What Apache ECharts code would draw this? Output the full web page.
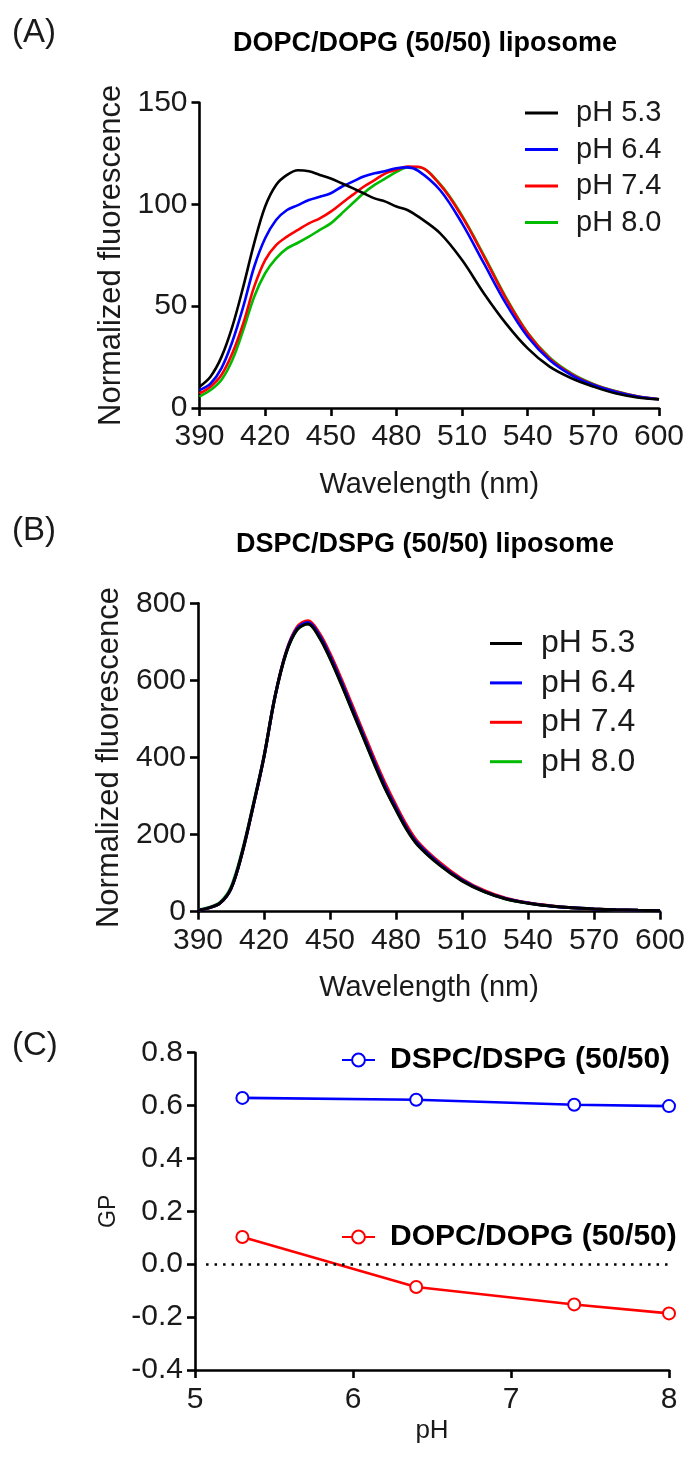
<!DOCTYPE html>
<html>
<head>
<meta charset="utf-8">
<script src="https://cdn.jsdelivr.net/npm/echarts@6/dist/echarts.min.js"></script>
<style>
html,body{margin:0;padding:0;background:#fff;}
#chart{width:689px;height:1458px;}
</style>
</head>
<body>
<div id="chart"></div>
<script>
// ---------- DATA ----------
const wavelengths = [390,395,400,405,410,415,420,425,430,435,440,445,450,455,460,465,470,475,480,485,490,500,510,520,530,540,550,560,570,580,590,600];
const phLabels = ['pH 5.3','pH 6.4','pH 7.4','pH 8.0'];

// Panel A: DOPC/DOPG (50/50)
const dopcPH53 = [10.5,15.4,25,40,59.6,81,99,109.6,114.5,116.8,116.3,114.5,112.8,110.4,108,105.5,103,101.4,99,97.3,94,85.8,72.7,56.3,41.6,29.3,20.3,14.6,10.5,7.2,5.2,4.3];
const dopcPH64 = [8.8,12,19.5,32.6,49.8,69.4,83.4,92.4,97.3,99.7,102.2,103.8,105.5,108.7,111.2,113.7,115.3,116.4,117.8,118.2,116.5,107,90.7,71,51.4,35,23.6,16.2,11.3,8,5.6,4.3];
const dopcPH74 = [7.2,10.5,16.2,26.9,41.6,59.6,72.7,80,84.2,87.5,90.7,93.2,96.5,100.6,104.7,108.7,112,115.3,117,118.6,118.5,109.6,94,74.4,53.9,36.7,24.4,16.7,11.6,8.2,5.7,4.3];
const dopcPH80 = [5.6,8.8,13.8,23.6,38.3,54.7,66.2,73.5,78.4,81.2,84.2,87.5,90.7,95.6,100.6,105.5,109.6,112.8,116,118.2,118.3,110,94.5,75,54.5,37,24.8,17,11.8,8.3,5.8,4.3];

// Panel B: DSPC/DSPG (50/50)
const dspcPH53 = [4,10,22,60,151,272,402,558,670,731,746,713,657,592,523,454,385,320,264,212,172,120,80,52,33,22,15,10,7,5,3.5,2.6];
const dspcPH64 = [4,10,22,60,151,272,402,558,672,734,750,718,663,598,529,460,391,326,269,216,176,123,82,53,34,22.5,15,10,7,5,3.5,2.6];
const dspcPH74 = [4,10,22,60,151,272,402,558,673,738,755,724,670,606,537,468,399,334,276,223,181,127,85,55,35,23,15.5,10.5,7.2,5.1,3.6,2.7];
const dspcPH80 = [4.5,11,24,64,156,276,404,558,670,731,746,714,658,593,524,455,386,321,265,213,173,121,81,52,33,22,15,10,7,5,3.5,2.6];

// Panel C: GP vs pH
const phValues = [5.3, 6.4, 7.4, 8.0];
const gpDSPC = [0.629, 0.622, 0.603, 0.598];
const gpDOPC = [0.103, -0.086, -0.152, -0.186];

// ---------- STYLE ----------
const FONT = "'Liberation Sans', Arial, Helvetica, sans-serif";
const colors = {'pH 5.3':'#000000','pH 6.4':'#0000ff','pH 7.4':'#ff0000','pH 8.0':'#00bb00'};
const pair = (xs, ys) => xs.map((x, i) => [x, ys[i]]);

const axisLine = {show:true, onZero:false, lineStyle:{color:'#000', width:2.6}};
const axisTick = {show:true, inside:false, length:8, lineStyle:{color:'#000', width:2.6}};
const lbl = (size) => ({color:'#1a1a1a', fontSize:size, fontFamily:FONT});

function specX(grid){
  return {type:'value', gridIndex:grid, min:390, max:600, interval:30,
    axisLine, axisTick, splitLine:{show:false},
    axisLabel:{...lbl(30), margin:14},
    name:'Wavelength (nm)', nameLocation:'middle', nameGap:62,
    nameTextStyle:lbl(29)};
}
function specY(grid, max, interval){
  return {type:'value', gridIndex:grid, min:0, max:max, interval:interval,
    axisLine, axisTick, splitLine:{show:false},
    axisLabel:{...lbl(30), margin:12},
    name:'Normalized fluorescence', nameLocation:'middle', nameGap:63,
    nameTextStyle:lbl(31)};
}
function specSeries(name, xs, ys, xi, lw, z){
  return {type:'line', name:name, xAxisIndex:xi, yAxisIndex:xi,
    data:pair(xs, ys), showSymbol:false, symbol:'none', smooth:0.35,
    lineStyle:{color:colors[name], width:lw}, itemStyle:{color:colors[name]},
    z:z, silent:true};
}

const option = {
  animation:false,
  textStyle:{fontFamily:FONT},
  grid:[
    {left:199.5, top:102.7, width:459.5, height:305.3},
    {left:198, top:603.3, width:462, height:308.4},
    {left:195, top:1052.7, width:474, height:317.3}
  ],
  xAxis:[
    specX(0),
    specX(1),
    {type:'value', gridIndex:2, min:5, max:8, interval:1,
      axisLine, axisTick, splitLine:{show:false},
      axisLabel:{...lbl(30), margin:15},
      name:'pH', nameLocation:'middle', nameGap:48, nameTextStyle:lbl(26)}
  ],
  yAxis:[
    specY(0, 150, 50),
    specY(1, 800, 200),
    {type:'value', gridIndex:2, min:-0.4, max:0.8, interval:0.2,
      axisLine, axisTick, splitLine:{show:false},
      axisLabel:{...lbl(30), margin:12, formatter:(v)=>v.toFixed(1)},
      name:'GP', nameLocation:'middle', nameGap:54, nameTextStyle:lbl(23)}
  ],
  legend:[
    {data:phLabels.map(n=>({name:n})), orient:'vertical', left:520, top:93,
      icon:'rect', itemWidth:33, itemHeight:3, itemGap:6.5, selectedMode:false,
      textStyle:{fontSize:29, lineHeight:30, color:'#1a1a1a', fontFamily:FONT, padding:[0,0,0,13]}},
    {data:phLabels.map(n=>({name:n})), orient:'vertical', left:485, top:622,
      icon:'rect', itemWidth:32, itemHeight:3, itemGap:6.4, selectedMode:false,
      textStyle:{fontSize:32, lineHeight:33, color:'#1a1a1a', fontFamily:FONT, padding:[0,0,0,14]}},
    {data:['DSPC/DSPG (50/50)'], orient:'vertical', left:336, top:1039,
      itemWidth:33, itemHeight:16, selectedMode:false,
      textStyle:{fontSize:30, lineHeight:32, fontWeight:'bold', color:'#000', fontFamily:FONT, padding:[0,0,0,10]}},
    {data:['DOPC/DOPG (50/50)'], orient:'vertical', left:336, top:1216,
      itemWidth:33, itemHeight:16, selectedMode:false,
      textStyle:{fontSize:30, lineHeight:32, fontWeight:'bold', color:'#000', fontFamily:FONT, padding:[0,0,0,10]}}
  ],
  graphic:[
    {type:'text', x:12, y:33, style:{text:'(A)', font:'33px '+FONT, fill:'#1a1a1a', verticalAlign:'middle'}},
    {type:'text', x:425, y:44, style:{text:'DOPC/DOPG (50/50) liposome', font:'bold 27px '+FONT, fill:'#000', align:'center', verticalAlign:'middle'}},
    {type:'text', x:12, y:531, style:{text:'(B)', font:'33px '+FONT, fill:'#1a1a1a', verticalAlign:'middle'}},
    {type:'text', x:425, y:545, style:{text:'DSPC/DSPG (50/50) liposome', font:'bold 27px '+FONT, fill:'#000', align:'center', verticalAlign:'middle'}},
    {type:'text', x:12, y:1046, style:{text:'(C)', font:'33px '+FONT, fill:'#1a1a1a', verticalAlign:'middle'}}
  ],
  series:[
    specSeries('pH 8.0', wavelengths, dopcPH80, 0, 2.6, 2),
    specSeries('pH 7.4', wavelengths, dopcPH74, 0, 2.6, 3),
    specSeries('pH 6.4', wavelengths, dopcPH64, 0, 2.6, 4),
    specSeries('pH 5.3', wavelengths, dopcPH53, 0, 2.6, 5),
    specSeries('pH 8.0', wavelengths, dspcPH80, 1, 3, 2),
    specSeries('pH 7.4', wavelengths, dspcPH74, 1, 3, 3),
    specSeries('pH 6.4', wavelengths, dspcPH64, 1, 3, 4),
    specSeries('pH 5.3', wavelengths, dspcPH53, 1, 3, 5),
    {type:'line', name:'DSPC/DSPG (50/50)', xAxisIndex:2, yAxisIndex:2,
      data:pair(phValues, gpDSPC), symbol:'emptyCircle', symbolSize:12,
      lineStyle:{color:'#0000ff', width:2.6}, itemStyle:{color:'#0000ff', borderWidth:2.6}, silent:true},
    {type:'line', name:'DOPC/DOPG (50/50)', xAxisIndex:2, yAxisIndex:2,
      data:pair(phValues, gpDOPC), symbol:'emptyCircle', symbolSize:12,
      lineStyle:{color:'#ff0000', width:2.6}, itemStyle:{color:'#ff0000', borderWidth:2.6}, silent:true,
      markLine:{silent:true, symbol:'none', label:{show:false},
        lineStyle:{color:'#000', type:[2.5,6], width:2.5},
        data:[[{coord:[5.07,0]},{coord:[8,0]}]]}}
  ]
};

const chart = echarts.init(document.getElementById('chart'), null, {renderer:'canvas'});
chart.setOption(option);
</script>
</body>
</html>
